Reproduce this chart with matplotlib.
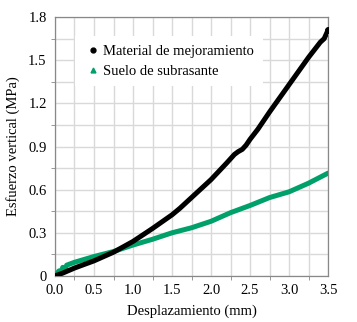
import matplotlib.pyplot as plt
from matplotlib.ticker import MultipleLocator
from matplotlib.lines import Line2D

# datos
x_mat = [0.0, 0.05, 0.1, 0.25, 0.5, 0.75, 1.0, 1.25, 1.5, 1.6, 1.65, 1.75, 2.0, 2.2, 2.3, 2.35, 2.4,
         2.45, 2.5, 2.6, 2.75, 3.0, 3.25, 3.35, 3.4, 3.45, 3.5]
y_mat = [0.0, 0.01, 0.02, 0.055, 0.105, 0.165, 0.24, 0.33, 0.425, 0.47, 0.495, 0.545, 0.67, 0.785,
         0.845, 0.865, 0.88, 0.91, 0.95, 1.02, 1.14, 1.33, 1.52, 1.59, 1.625, 1.65, 1.71]
x_sub = [0.0, 0.03, 0.05, 0.08, 0.1, 0.13, 0.15, 0.2, 0.25, 0.5, 0.75, 1.0, 1.25, 1.5, 1.75, 2.0, 2.25,
         2.5, 2.75, 3.0, 3.25, 3.5]
y_sub = [0.0, 0.02, 0.035, 0.03, 0.06, 0.05, 0.075, 0.085, 0.095, 0.135, 0.17, 0.215, 0.255, 0.3,
         0.335, 0.38, 0.44, 0.49, 0.545, 0.585, 0.645, 0.715]

negro = "black"
verde = "#00A06B"
fs = 10.5

plt.rcParams['font.family'] = ['Liberation Serif', 'DejaVu Serif']
fig = plt.figure(figsize=(3.57, 3.22), dpi=100)
ax = fig.add_axes([0.154, 0.143, 0.765, 0.804])

ax.plot(x_sub, y_sub, color=verde, lw=3.6, solid_capstyle="round", zorder=3)
ax.plot(x_mat, y_mat, color=negro, lw=3.6, solid_capstyle="round", zorder=4)
ax.plot([3.5], [1.71], "o", color=negro, ms=4, zorder=5)

ax.set_xlim(0, 3.5)
ax.set_ylim(0, 1.8)
ax.xaxis.set_major_locator(MultipleLocator(0.5))
ax.xaxis.set_minor_locator(MultipleLocator(0.25))
ax.yaxis.set_major_locator(MultipleLocator(0.3))
ax.yaxis.set_minor_locator(MultipleLocator(0.15))
ax.xaxis.set_major_formatter(lambda v, p: f"{v:.1f}")
ax.yaxis.set_major_formatter(lambda v, p: "0" if v == 0 else f"{v:.1f}")
ax.grid(which="both", color="#d9d9d9", lw=1.0, zorder=0)
ax.set_axisbelow(True)
ax.tick_params(which="major", length=0, labelsize=fs, pad=6)
ax.tick_params(which="minor", length=3, color="#888888", direction="out")
for s in ax.spines.values():
    s.set_color("#888888")
    s.set_linewidth(0.9)

ax.set_xlabel("Desplazamiento (mm)", fontsize=fs, labelpad=5)
ax.set_ylabel("Esfuerzo vertical (MPa)", fontsize=fs, labelpad=6)

handles = [Line2D([], [], color=negro, marker="o", ls="none", ms=3.5),
           Line2D([], [], color=verde, marker="^", ls="none", ms=3.5)]
leg = ax.legend(handles, ["Material de mejoramiento", "Suelo de subrasante"],
                loc="upper left", bbox_to_anchor=(0.048, 0.955), fontsize=fs,
                frameon=True, fancybox=False, framealpha=1, edgecolor="white",
                handletextpad=0.1, handlelength=1.2, labelspacing=0.45, borderpad=0.6)
leg.get_frame().set_linewidth(0)

fig.savefig("out.png", dpi=100)
